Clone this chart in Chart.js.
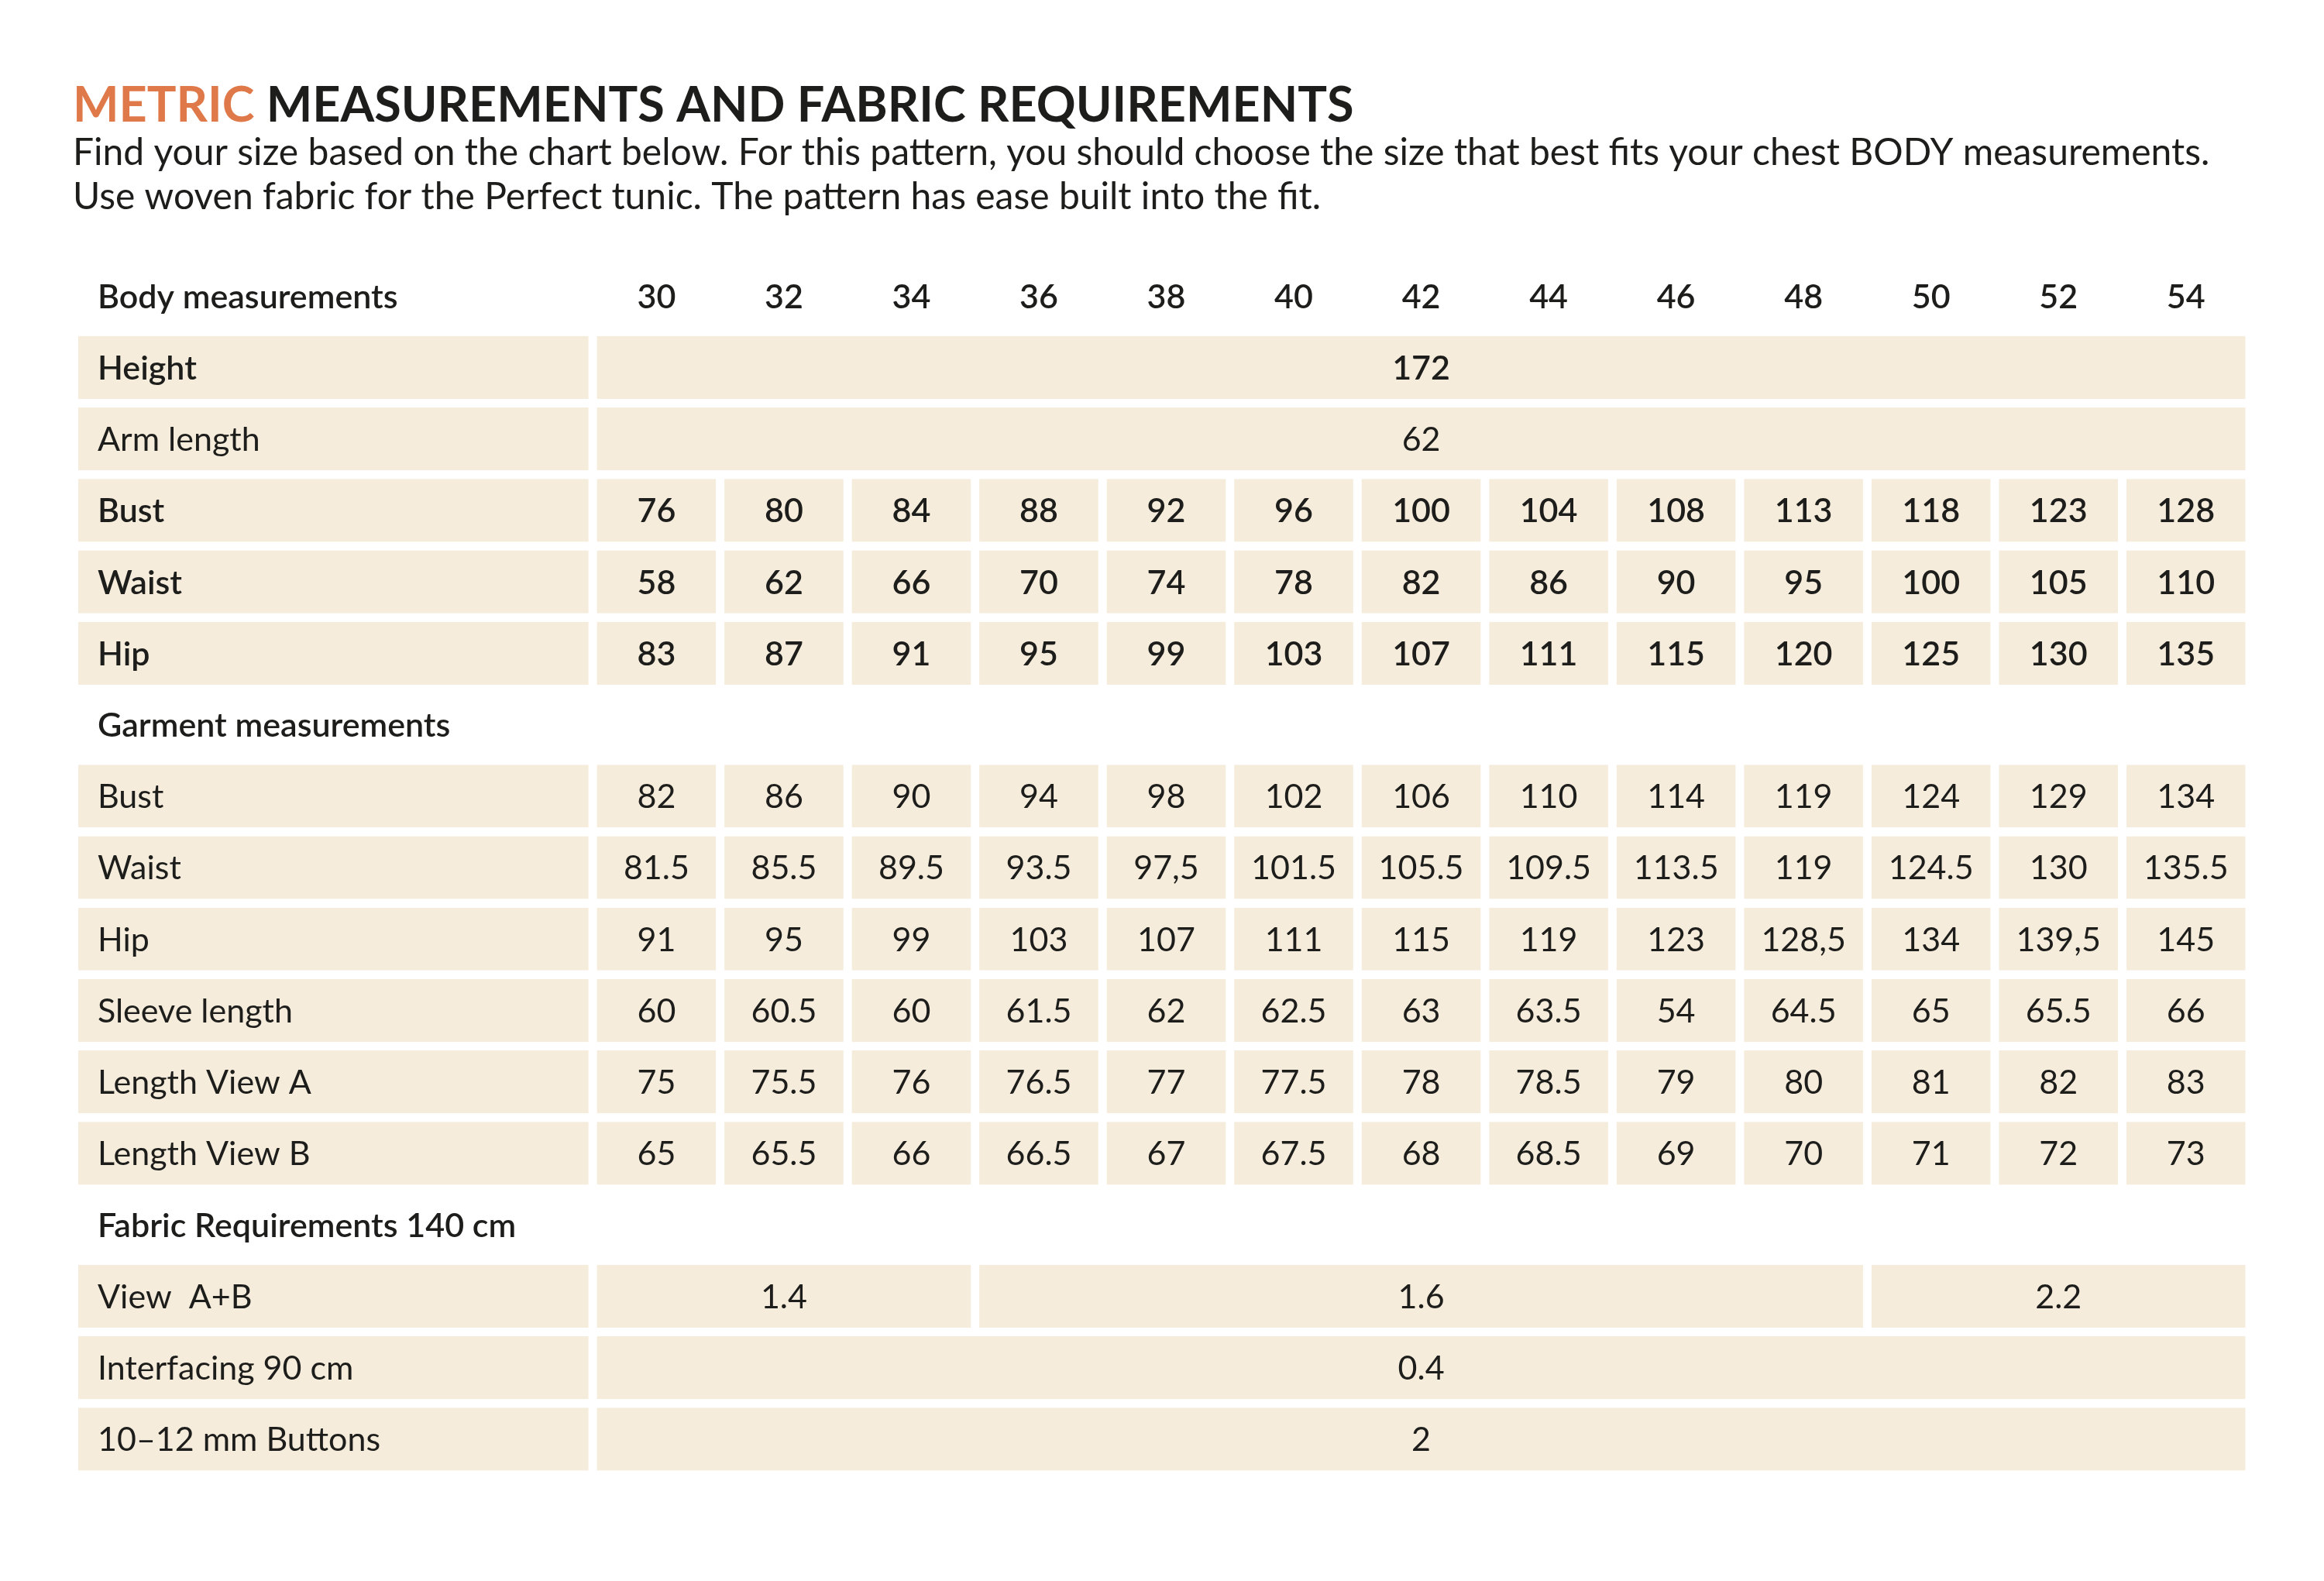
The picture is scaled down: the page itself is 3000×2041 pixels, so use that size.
<!DOCTYPE html>
<html lang="en">
<head>
<meta charset="UTF-8">
<title>Metric measurements and fabric requirements</title>
<script src="https://cdn.jsdelivr.net/npm/chart.js"></script>
<style>
    html, body { margin: 0; padding: 0; background: #ffffff; }
    canvas { display: block; }
</style>
</head>
<body>
<canvas id="sizeChart" width="3000" height="2041"></canvas>
<script>
    // --- table data ---
    const sizes = ['30', '32', '34', '36', '38', '40', '42', '44', '46', '48', '50', '52', '54'];

    const height = '172';
    const armLength = '62';
    const bodyBust = ['76', '80', '84', '88', '92', '96', '100', '104', '108', '113', '118', '123', '128'];
    const bodyWaist = ['58', '62', '66', '70', '74', '78', '82', '86', '90', '95', '100', '105', '110'];
    const bodyHip = ['83', '87', '91', '95', '99', '103', '107', '111', '115', '120', '125', '130', '135'];

    const garmentBust = ['82', '86', '90', '94', '98', '102', '106', '110', '114', '119', '124', '129', '134'];
    const garmentWaist = ['81.5', '85.5', '89.5', '93.5', '97,5', '101.5', '105.5', '109.5', '113.5', '119', '124.5', '130', '135.5'];
    const garmentHip = ['91', '95', '99', '103', '107', '111', '115', '119', '123', '128,5', '134', '139,5', '145'];
    const sleeveLength = ['60', '60.5', '60', '61.5', '62', '62.5', '63', '63.5', '54', '64.5', '65', '65.5', '66'];
    const lengthViewA = ['75', '75.5', '76', '76.5', '77', '77.5', '78', '78.5', '79', '80', '81', '82', '83'];
    const lengthViewB = ['65', '65.5', '66', '66.5', '67', '67.5', '68', '68.5', '69', '70', '71', '72', '73'];

    const viewAB = ['1.4', '1.6', '2.2'];
    const viewABSpan = [3, 7, 3];   // how many size columns each value covers
    const interfacing = '0.4';
    const buttons = '2';

    // --- styling ---
    const FILL = '#f5ecdb';
    const INK = '#1d1d1b';
    const ORANGE = '#e0794a';
    const FONT = 'Lato, "Open Sans", sans-serif';
    const TABLE_SIZE = 43;
    const LABEL_START = -4.07;  // width of the label column, in size columns
    const N = sizes.length;

    const single = arr => arr.map(v => [v, 1]);
    const whole = v => [[v, N]];

    // one entry per table row: label, cells [text, span], heading?, font weight
    const rows = [
        { label: 'Body measurements', cells: single(sizes), heading: true, weight: 600 },
        { label: 'Height', cells: whole(height), weight: 600 },
        { label: 'Arm length', cells: whole(armLength), weight: 400 },
        { label: 'Bust', cells: single(bodyBust), weight: 600 },
        { label: 'Waist', cells: single(bodyWaist), weight: 600 },
        { label: 'Hip', cells: single(bodyHip), weight: 600 },
        { label: 'Garment measurements', cells: [], heading: true, weight: 600 },
        { label: 'Bust', cells: single(garmentBust), weight: 400 },
        { label: 'Waist', cells: single(garmentWaist), weight: 400 },
        { label: 'Hip', cells: single(garmentHip), weight: 400 },
        { label: 'Sleeve length', cells: single(sleeveLength), weight: 400 },
        { label: 'Length View A', cells: single(lengthViewA), weight: 400 },
        { label: 'Length View B', cells: single(lengthViewB), weight: 400 },
        { label: 'Fabric Requirements 140 cm', cells: [], heading: true, weight: 600 },
        { label: 'View  A+B', cells: viewAB.map((v, i) => [v, viewABSpan[i]]), weight: 400 },
        { label: 'Interfacing 90 cm', cells: whole(interfacing), weight: 400 },
        { label: '10–12 mm Buttons', cells: whole(buttons), weight: 400 }
    ];

    // dataset 0 = label column, dataset k = k-th value cell of each row
    const datasets = [];
    for (let k = 0; k <= N; k++) {
        const data = [], texts = [], colors = [];
        rows.forEach(row => {
            colors.push(row.heading ? 'rgba(0,0,0,0)' : FILL);
            if (k === 0) {
                data.push([LABEL_START, 0]);
                texts.push(row.label);
                return;
            }
            const cell = row.cells[k - 1];
            if (!cell) { data.push(null); texts.push(null); return; }
            let start = 0;
            for (let j = 0; j < k - 1; j++) start += row.cells[j][1];
            data.push([start, start + cell[1]]);
            texts.push(cell[0]);
        });
        datasets.push({
            data: data,
            texts: texts,
            backgroundColor: colors,
            borderColor: '#ffffff',
            borderWidth: { left: 5.5, right: 5.5, top: 0, bottom: 0 },
            borderSkipped: false,
            grouped: false,
            barPercentage: 0.88,
            categoryPercentage: 1
        });
    }

    const cellText = {
        id: 'cellText',
        afterDatasetsDraw(chart) {
            const ctx = chart.ctx;
            ctx.save();
            ctx.fillStyle = INK;
            ctx.textBaseline = 'alphabetic';
            chart.data.datasets.forEach((ds, k) => {
                chart.getDatasetMeta(k).data.forEach((el, i) => {
                    const text = ds.texts[i];
                    if (text == null) return;
                    ctx.font = rows[i].weight + ' ' + TABLE_SIZE + 'px ' + FONT;
                    const y = el.y + TABLE_SIZE * 0.36;
                    if (k === 0) {
                        ctx.textAlign = 'left';
                        ctx.fillText(text, Math.min(el.x, el.base) + 30.5, y);
                    } else {
                        ctx.textAlign = 'center';
                        ctx.fillText(text, (el.x + el.base) / 2, y);
                    }
                });
            });
            ctx.restore();
        }
    };

    const heading = {
        id: 'heading',
        afterDraw(chart) {
            const ctx = chart.ctx;
            ctx.save();
            ctx.textAlign = 'left';
            ctx.textBaseline = 'alphabetic';
            ctx.font = '700 63px ' + FONT;
            ctx.fillStyle = ORANGE;
            ctx.fillText('METRIC', 94, 157);
            const w = ctx.measureText('METRIC ').width;
            ctx.fillStyle = INK;
            ctx.fillText('MEASUREMENTS AND FABRIC REQUIREMENTS', 94 + w, 157);

            ctx.font = '400 48px ' + FONT;
            ctx.fillText('Find your size based on the chart below. For this pattern, you should choose the size that best fits your chest BODY measurements.', 94, 213);
            ctx.fillText('Use woven fabric for the Perfect tunic. The pattern has ease built into the fit.', 94, 270);
            ctx.restore();
        }
    };

    new Chart(document.getElementById('sizeChart'), {
        type: 'bar',
        data: {
            labels: rows.map(r => r.label),
            datasets: datasets
        },
        options: {
            indexAxis: 'y',
            responsive: false,
            animation: false,
            devicePixelRatio: 1,
            events: [],
            layout: {
                padding: { left: 95.5, right: 96, top: 336, bottom: 137 }
            },
            scales: {
                x: { type: 'linear', min: LABEL_START, max: N, display: false },
                y: { type: 'category', display: false }
            },
            plugins: {
                legend: { display: false },
                tooltip: { enabled: false }
            }
        },
        plugins: [cellText, heading]
    });
</script>
</body>
</html>
